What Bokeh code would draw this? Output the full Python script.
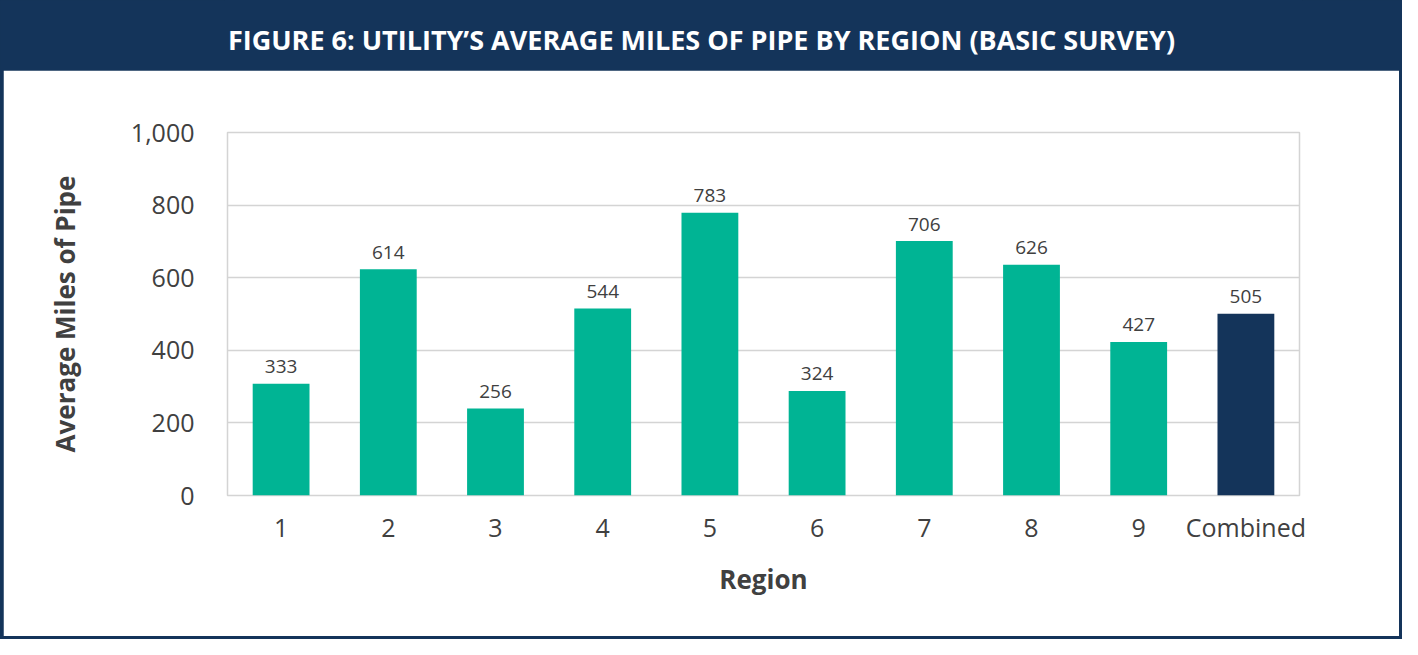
from bokeh.plotting import figure
from bokeh.layouts import column
from bokeh.models import ColumnDataSource, NumeralTickFormatter, FixedTicker, Range1d
from bokeh.core.properties import value
from bokeh.embed import file_html
from bokeh.resources import INLINE

# ---- data ----
TITLE = "FIGURE 6: UTILITY\u2019S AVERAGE MILES OF PIPE BY REGION (BASIC SURVEY)"
regions = ["1", "2", "3", "4", "5", "6", "7", "8", "9", "Combined"]
bar_heights = [308, 623, 240, 515, 779, 288, 701, 636, 423, 501]
label_values = [333, 614, 256, 544, 783, 324, 706, 626, 427, 505]
y_ticks = [0, 200, 400, 600, 800, 1000]
x_title = "Region"
y_title = "Average Miles of Pipe"

NAVY = "#14345a"
TEAL = "#00b494"
TXT = "#404040"
GRID = "#d4d4d4"

W, H_HEAD, H_MAIN = 1402, 70, 566
FL, FR = 224, 1302  # frame edges (figure pixels) shared by header and chart

# ---- header band ----
header = figure(width=W, height=H_HEAD, x_range=Range1d(0, FR - FL), y_range=Range1d(0, 1),
                output_backend="svg", toolbar_location=None,
                min_border_left=FL, min_border_right=W - FR, min_border_top=0, min_border_bottom=0,
                x_axis_location=None, y_axis_location=None)
header.grid.visible = False
header.outline_line_color = None
header.background_fill_color = NAVY
header.border_fill_color = NAVY
header.text(x=[W / 2 - FL], y=[0.443], text=[TITLE], text_color="white",
            text_font=value("Open Sans"), text_font_style="bold", text_font_size="27px",
            text_align="center", text_baseline="middle")

# ---- main chart ----
colors = [NAVY if r == "Combined" else TEAL for r in regions]
src = ColumnDataSource(dict(region=regions, bar=bar_heights,
                            label=[str(v) for v in label_values], color=colors))

p = figure(width=W - 6, height=H_MAIN, x_range=regions, y_range=Range1d(0, 1000),
           output_backend="svg", toolbar_location=None,
           min_border_left=FL - 3, min_border_right=W - FR - 3, min_border_top=62, min_border_bottom=141,
           margin=(0, 3, 3, 3))
p.background_fill_color = "white"
p.border_fill_color = "white"

p.vbar(x="region", top="bar", width=0.53, color="color", line_color=None, source=src)
p.text(x="region", y="bar", text="label", source=src, text_color=TXT,
       text_font=value("Open Sans"), text_font_size="19px",
       text_align="center", text_baseline="alphabetic", y_offset=-17)

p.yaxis.ticker = FixedTicker(ticks=y_ticks)
p.yaxis.formatter = NumeralTickFormatter(format="0,0")
p.xaxis.axis_label = x_title
p.yaxis.axis_label = y_title

for ax in (p.xaxis, p.yaxis):
    ax.axis_line_color = None
    ax.major_tick_line_color = None
    ax.minor_tick_line_color = None
    ax.major_tick_out = 0
    ax.major_tick_in = 0
    ax.major_label_text_font = "Open Sans"
    ax.major_label_text_color = TXT
    ax.major_label_text_font_size = "25px"
    ax.axis_label_text_font = "Open Sans"
    ax.axis_label_text_font_style = "bold"
    ax.axis_label_text_font_size = "26px"
    ax.axis_label_text_color = TXT

p.xaxis.major_label_standoff = 14
p.xaxis.axis_label_standoff = 14
p.yaxis.major_label_standoff = 33
p.yaxis.axis_label_standoff = 45

p.xgrid.grid_line_color = None
p.ygrid.grid_line_color = GRID
p.ygrid.grid_line_width = 1.5
p.outline_line_color = GRID
p.outline_line_width = 1.5

layout = column(header, p, styles={"background-color": NAVY}, spacing=0)

open("out.html", "w").write(file_html(layout, INLINE))
